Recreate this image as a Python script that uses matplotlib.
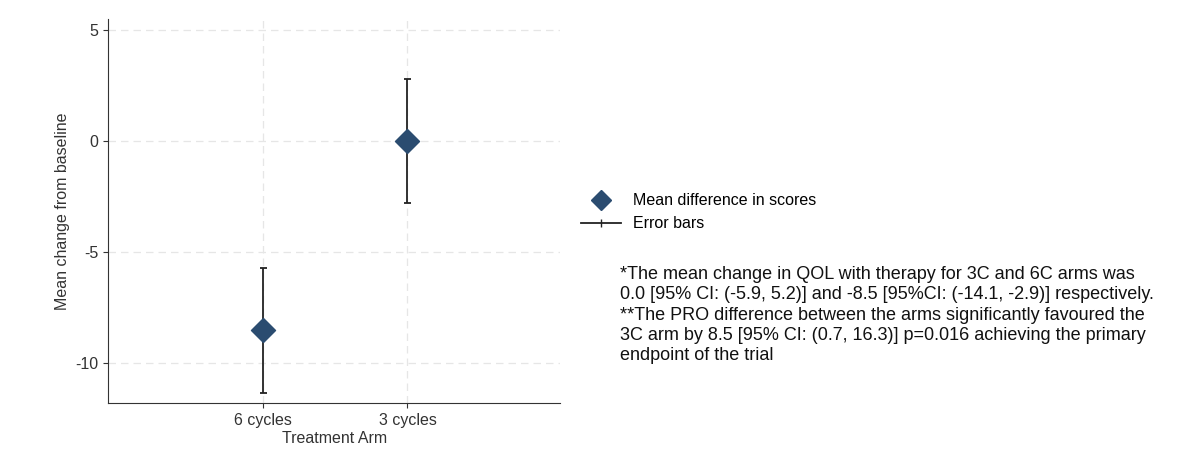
import matplotlib
matplotlib.use("Agg")
import matplotlib.pyplot as plt
from matplotlib.lines import Line2D

plt.rcParams["font.family"] = ["Liberation Sans", "DejaVu Sans"]
plt.rcParams["axes.unicode_minus"] = False

arms = ["6 cycles", "3 cycles"]
means = [-8.5, 0.0]
lower = [-11.35, -2.8]
upper = [-5.7, 2.8]

fig = plt.figure(figsize=(12, 4.67), dpi=100)
ax = fig.add_axes([0.09, 0.137, 0.377, 0.822])
x = [1, 2]
color = "#2b4c70"
ax.vlines(x, lower, upper, color="#222222", lw=1.3, zorder=2)
ax.hlines(lower + upper, [xi - 0.025 for xi in x] * 2, [xi + 0.025 for xi in x] * 2, color="#222222", lw=1.3, zorder=2)
ax.scatter(x, means, marker="D", s=150, color=color, zorder=3)
ax.set_xlim(-0.076, 3.06)
ax.set_ylim(-11.8, 5.5)
ax.set_xticks(x)
ax.set_xticklabels(arms)
ax.set_yticks([5, 0, -5, -10])
ax.grid(True, ls=(0, (6, 4)), color="#e6e6e6", lw=0.9)
ax.set_axisbelow(True)
for s in ["top", "right"]:
    ax.spines[s].set_visible(False)
for s in ["left", "bottom"]:
    ax.spines[s].set_color("#333333")
ax.tick_params(labelsize=11.5, colors="#333333")
ax.set_xlabel("Treatment Arm", fontsize=11.5, color="#333333", labelpad=2)
ax.set_ylabel("Mean change from baseline", fontsize=11.5, color="#333333")

handles = [Line2D([], [], marker="D", color=color, ls="none", markersize=10),
           Line2D([], [], color="#222222", marker="|", markersize=6, lw=1.3)]
fig.legend(handles, ["Mean difference in scores", "Error bars"], loc="center left",
           bbox_to_anchor=(0.472, 0.545), frameon=False, fontsize=11.5, handlelength=2.5)

fig.text(0.517, 0.43,
         "*The mean change in QOL with therapy for 3C and 6C arms was\n"
         "0.0 [95% CI: (-5.9, 5.2)] and -8.5 [95%CI: (-14.1, -2.9)] respectively.\n"
         "**The PRO difference between the arms significantly favoured the\n"
         "3C arm by 8.5 [95% CI: (0.7, 16.3)] p=0.016 achieving the primary\n"
         "endpoint of the trial", fontsize=13, va="top", linespacing=1.25, color="#111111")
fig.savefig("out.png")
